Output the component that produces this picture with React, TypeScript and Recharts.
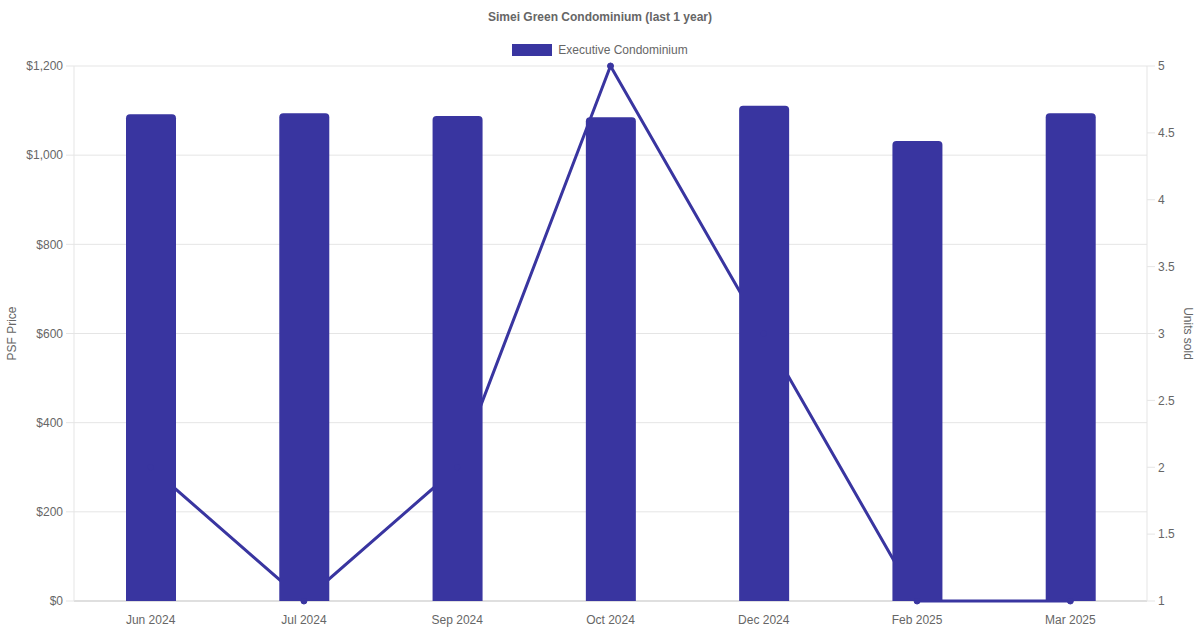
import React from 'react'
import { ComposedChart, Bar, Line, XAxis, YAxis, CartesianGrid, Legend } from 'recharts'

const months = ['Jun 2024', 'Jul 2024', 'Sep 2024', 'Oct 2024', 'Dec 2024', 'Feb 2025', 'Mar 2025']
const psfPrice = [1092, 1094, 1088, 1085, 1111, 1032, 1094]
const unitsSold = [2, 1, 2, 5, 3, 1, 1]
const psfTicks = [0, 200, 400, 600, 800, 1000, 1200]
const unitTicks = [1, 1.5, 2, 2.5, 3, 3.5, 4, 4.5, 5]

const data = months.map((m, i) => ({ name: m, psf: psfPrice[i], units: unitsSold[i] }))

const COLOR = '#3935a0'
const FONT = '"Liberation Sans", Arial, Helvetica, sans-serif'
const TEXT = '#666'

const LegendBox = () => (
    <div style={{ display: 'flex', justifyContent: 'center', alignItems: 'center', fontFamily: FONT, fontSize: 12, color: TEXT, height: 14 }}>
        <span style={{ display: 'inline-block', width: 40, height: 12, background: COLOR, marginRight: 6 }} />
        <span>Executive Condominium</span>
    </div>
)

const App = () => {
    return (
        <div style={{ position: 'absolute', left: 0, top: 0, width: 1200, height: 630, background: '#fff', fontFamily: FONT }}>
            <div style={{ position: 'absolute', top: 10, width: 1200, textAlign: 'center', fontSize: 12, fontWeight: 'bold', color: TEXT }}>
                Simei Green Condominium (last 1 year)
            </div>
            <ComposedChart width={1200} height={630} data={data} margin={{ top: 52, right: 0, bottom: 0, left: 0 }}>
                <CartesianGrid yAxisId="left" vertical={false} stroke="#e5e5e5" />
                <XAxis
                    dataKey="name"
                    height={29}
                    tickLine={false}
                    axisLine={{ stroke: '#cccccc' }}
                    zIndex={-50}
                    tick={{ fill: TEXT, fontSize: 12, fontFamily: FONT }}
                    tickMargin={8}
                />
                <YAxis
                    yAxisId="left"
                    width={74}
                    domain={[0, 1200]}
                    ticks={psfTicks}
                    tickSize={8}
                    tickMargin={3}
                    tickLine={{ stroke: '#e5e5e5' }}
                    axisLine={{ stroke: '#e5e5e5' }}
                    tickFormatter={(v) => '$' + v.toLocaleString('en-US')}
                    tick={{ fill: TEXT, fontSize: 12, fontFamily: FONT }}
                    label={{
                        content: ({ viewBox }: any) => (
                            <text x={12} y={viewBox.y + viewBox.height / 2} transform={`rotate(-90, 12, ${viewBox.y + viewBox.height / 2})`} textAnchor="middle" dominantBaseline="central" fill={TEXT} fontSize={12} fontFamily={FONT}>
                                PSF Price
                            </text>
                        ),
                    }}
                />
                <YAxis
                    yAxisId="right"
                    orientation="right"
                    width={53}
                    domain={[1, 5]}
                    ticks={unitTicks}
                    tickSize={8}
                    tickMargin={3}
                    tickLine={{ stroke: '#e5e5e5' }}
                    axisLine={{ stroke: '#e5e5e5' }}
                    tick={{ fill: TEXT, fontSize: 12, fontFamily: FONT }}
                    label={{
                        content: ({ viewBox }: any) => (
                            <text x={1188} y={viewBox.y + viewBox.height / 2} transform={`rotate(90, 1188, ${viewBox.y + viewBox.height / 2})`} textAnchor="middle" dominantBaseline="central" fill={TEXT} fontSize={12} fontFamily={FONT}>
                                Units sold
                            </text>
                        ),
                    }}
                />
                <Legend verticalAlign="top" content={LegendBox} wrapperStyle={{ top: 43, left: 0, width: 1200 }} />
                <Line
                    yAxisId="right"
                    dataKey="units"
                    type="linear"
                    stroke={COLOR}
                    strokeWidth={3}
                    dot={{ r: 3, fill: COLOR, stroke: COLOR, strokeWidth: 1 }}
                    activeDot={false}
                    zIndex={200}
                    isAnimationActive={false}
                />
                <Bar yAxisId="left" dataKey="psf" fill={COLOR} barSize={50} radius={[4, 4, 0, 0]} isAnimationActive={false} />
            </ComposedChart>
        </div>
    )
}

export default App
